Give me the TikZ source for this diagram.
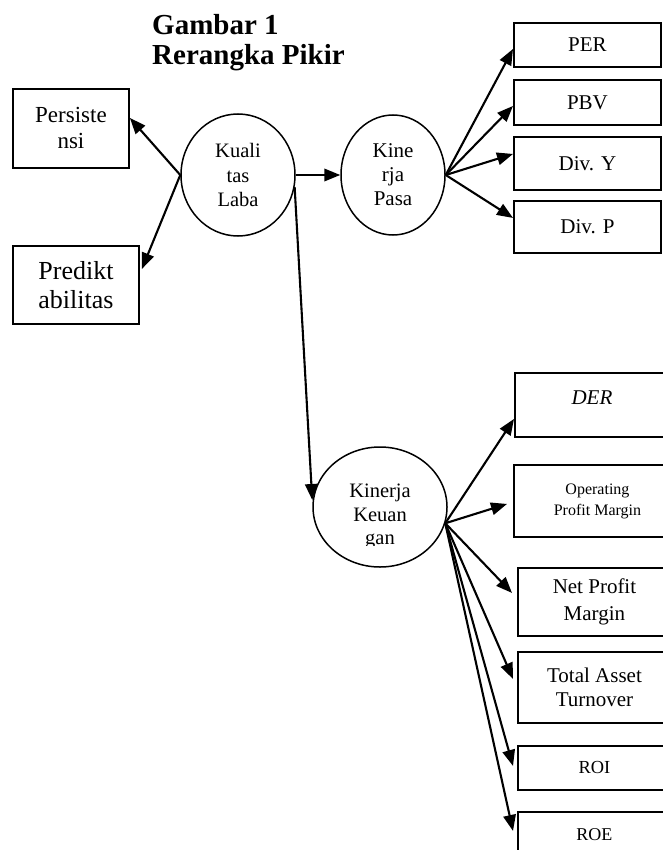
\documentclass[tikz,border=0pt]{standalone}
\usepackage{fontspec}
\setmainfont{Liberation Serif}
\usetikzlibrary{arrows.meta,shapes.geometric}
\begin{document}
\begin{tikzpicture}[x=1pt,y=1pt,
  box/.style={draw,line width=1.9pt,rectangle,inner sep=0pt,anchor=north west,align=center},
  oval/.style={draw,line width=1.5pt,ellipse,inner sep=0pt,align=center},
  arr/.style={line width=2.1pt,-{Triangle[length=16pt,width=12.5pt]}},
  txt/.style={font=\fontsize{21}{24}\selectfont}
]
\useasboundingbox (0,0) rectangle (662,-850);
% title
\node[anchor=base west,font=\bfseries\fontsize{29}{30}\selectfont,inner sep=0pt] (t1) at (152,-35) {Gambar 1};
\node[anchor=base west,font=\bfseries\fontsize{29}{30}\selectfont,inner sep=0pt] (t2) at (152,-65) {Rerangka Pikir};
% left boxes
\node[box,minimum width=116pt,minimum height=79pt,font=\fontsize{23}{26}\selectfont] (pers) at (12,-88) {Persiste\\nsi};
\node[box,minimum width=126pt,minimum height=78pt,font=\fontsize{26}{29}\selectfont] (pred) at (12,-245) {Predikt\\abilitas};
% ovals
\node[oval,minimum width=114pt,minimum height=122pt,font=\fontsize{20.5}{24.5}\selectfont] (kual) at (238,-175) {Kuali\\tas\\Laba};
\node[oval,minimum width=104pt,minimum height=120pt,font=\fontsize{21}{24}\selectfont] (kp) at (393,-175) {Kine\\rja\\Pasa};
\node[oval,minimum width=134pt,minimum height=120pt] (keu) at (380,-507) {};
\begin{scope}
\clip (300,-440) rectangle (460,-545);
\node[align=center,inner sep=0pt,font=\fontsize{20.5}{23.5}\selectfont] (keut) at (380,-516.5) {Kinerja\\Keuan\\gan};
\end{scope}
% right upper boxes
\node[box,txt,minimum width=147pt,minimum height=44pt] (per) at (513,-22) {PER};
\node[box,txt,minimum width=147pt,minimum height=45pt] (pbv) at (513,-79) {PBV};
\node[box,txt,minimum width=147pt,minimum height=53pt] (divy) at (513,-136) {Div. Y};
\node[box,txt,minimum width=147pt,minimum height=52pt] (divp) at (513,-200) {Div. P};
% right lower boxes
\node[box,txt,minimum width=154pt,minimum height=64pt,text depth=14pt] (der) at (514,-372) {\itshape DER};
\node[box,minimum width=167pt,minimum height=72pt,font=\fontsize{16}{21}\selectfont] (opm) at (513,-464) {Operating\\Profit Margin};
\node[box,minimum width=153pt,minimum height=68pt,font=\fontsize{21}{27}\selectfont] (npm) at (517,-567) {Net Profit\\Margin};
\node[box,minimum width=153pt,minimum height=71pt,font=\fontsize{21}{24}\selectfont] (tat) at (517,-651) {Total Asset\\Turnover};
\node[box,minimum width=153pt,minimum height=44pt,font=\fontsize{18.4}{22}\selectfont] (roi) at (517,-745) {ROI};
\node[box,minimum width=153pt,minimum height=46pt,font=\fontsize{18}{22}\selectfont] (roe) at (517,-811) {ROE};
% connectors
\draw[arr] (kual.west) -- ([yshift=10.5pt]pers.east);
\draw[arr] (kual.west) -- ([xshift=2pt,yshift=16pt]pred.east);
\draw[arr] (kual.east) -- (kp.west);
\draw[arr] (kual.-12) -- ([yshift=7pt]keu.west);
\draw[arr] (kp.east) -- ([yshift=-4pt]per.west);
\draw[arr] (kp.east) -- ([yshift=-3.5pt]pbv.west);
\draw[arr] (kp.east) -- ([yshift=9.5pt]divy.west);
\draw[arr] (kp.east) -- ([yshift=9pt]divp.west);
\draw[arr] (keu.-14) -- ([yshift=-14pt]der.west);
\draw[arr] (keu.-14) -- ([xshift=-6pt,yshift=-3pt]opm.west);
\draw[arr] (keu.-14) -- ([xshift=-5pt,yshift=9pt]npm.west);
\draw[arr] (keu.-14) -- ([xshift=-4pt,yshift=8.5pt]tat.west);
\draw[arr] (keu.-14) -- ([xshift=-4pt,yshift=2pt]roi.west);
\draw[arr] (keu.-14) -- ([xshift=-4pt,yshift=4pt]roe.west);
\end{tikzpicture}
\end{document}
